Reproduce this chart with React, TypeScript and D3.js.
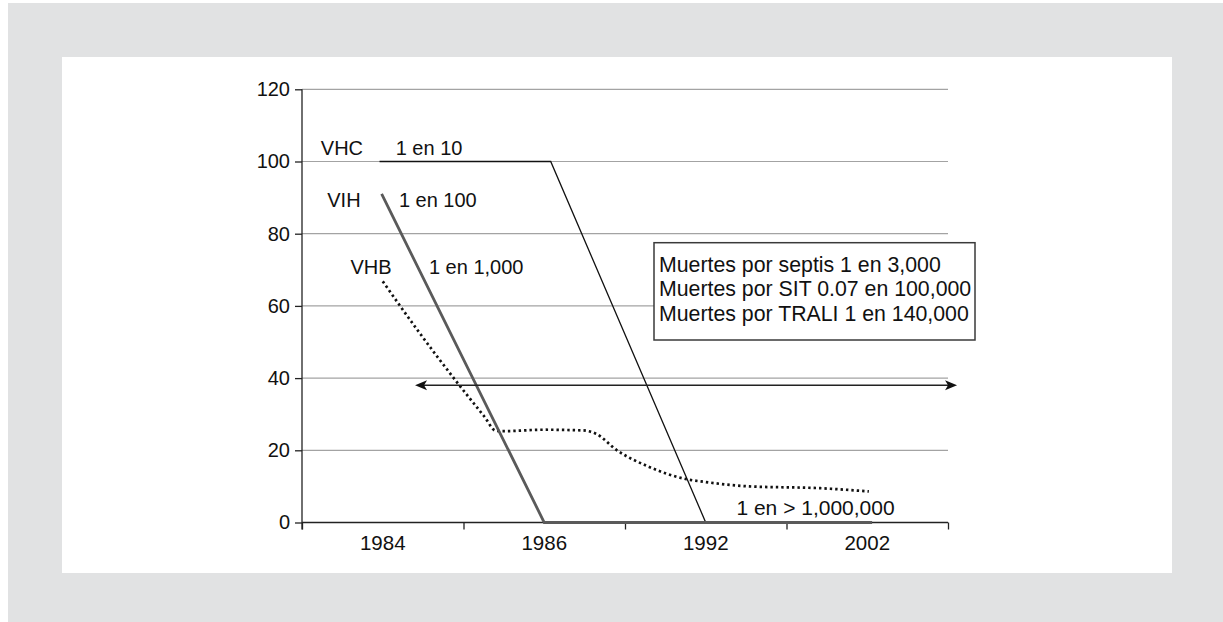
import { useEffect, useRef } from "react";
import * as d3 from "d3";

// categories on the x axis
const years = ["1984", "1986", "1992", "2002"];
const yTicks = [0, 20, 40, 60, 80, 100, 120];

// x is in category units (0.5 = middle of 1984, 1.5 = middle of 1986 ...)
const vhcX = [0.48, 1.54, 2.5, 3.53];
const vhcY = [100, 100, 0, 0];
const vihX = [0.493, 1.5, 3.53];
const vihY = [91, 0, 0];
const vhbX = [0.5, 0.72, 0.95, 1.13, 1.2, 1.24, 1.5, 1.74, 1.82, 1.95, 2.15, 2.38, 2.5, 2.77, 3.21, 3.51];
const vhbY = [66.8, 53, 39.4, 29.3, 25.4, 25.3, 25.7, 25.5, 24.6, 20, 15.4, 12, 11.2, 10.0, 9.5, 8.6];

const seriesNames = ["VHC", "VIH", "VHB"];
const seriesRates = ["1 en 10", "1 en 100", "1 en 1,000"];
const zeroRate = "1 en > 1,000,000";
const boxLines = [
  "Muertes por septis 1 en 3,000",
  "Muertes por SIT 0.07 en 100,000",
  "Muertes por TRALI 1 en 140,000",
];
const arrowX = [0.7, 4.056];
const arrowY = 38;

const FONT = "'Liberation Sans', Arial, sans-serif";

export default function App() {
  const ref = useRef<SVGSVGElement>(null);

  useEffect(() => {
    const svg = d3.select(ref.current);
    svg.selectAll("*").remove();

    // backdrop
    svg.append("rect").attr("width", 1223).attr("height", 622).attr("fill", "#fff");
    svg.append("rect").attr("x", 8).attr("y", 3).attr("width", 1215).attr("height", 619).attr("fill", "#e1e2e3");
    svg.append("rect").attr("x", 62).attr("y", 57).attr("width", 1110).attr("height", 516).attr("fill", "#fff");

    const x = d3.scaleLinear().domain([0, years.length]).range([302, 948]);
    const y = d3.scaleLinear().domain([0, 120]).range([522.5, 89.3]);

    const g = svg.append("g").attr("font-family", FONT);

    // grid
    g.selectAll(".grid")
      .data(yTicks.filter((d) => d > 0))
      .enter()
      .append("line")
      .attr("x1", x(0))
      .attr("x2", x(4))
      .attr("y1", (d) => y(d))
      .attr("y2", (d) => y(d))
      .attr("stroke", "#a3a3a3")
      .attr("stroke-width", 1.2);

    // y axis
    const yAxis = g
      .append("g")
      .attr("transform", `translate(${x(0)},0)`)
      .call(d3.axisLeft(y).tickValues(yTicks).tickSize(7).tickPadding(5));
    yAxis.select(".domain").remove();
    yAxis.selectAll("line").attr("stroke", "#222").attr("stroke-width", 1.3);
    yAxis.selectAll("text").attr("font-size", 20).attr("font-family", FONT).attr("fill", "#111");
    g.append("line")
      .attr("x1", x(0)).attr("x2", x(0))
      .attr("y1", y(120)).attr("y2", y(0) + 7)
      .attr("stroke", "#222").attr("stroke-width", 1.3);

    // x axis: ticks between the years
    const xAxis = g
      .append("g")
      .attr("transform", `translate(0,${y(0)})`)
      .call(d3.axisBottom(x).tickValues([0, 1, 2, 3, 4]).tickSize(7).tickFormat(() => ""));
    xAxis.select(".domain").attr("stroke", "#222").attr("stroke-width", 1.3).attr("d", `M${x(0)},0H${x(4)}`);
    xAxis.selectAll("line").attr("stroke", "#222").attr("stroke-width", 1.3);
    g.selectAll(".year")
      .data(years)
      .enter()
      .append("text")
      .attr("x", (d, i) => x(i + 0.5))
      .attr("y", y(0) + 27)
      .attr("text-anchor", "middle")
      .attr("font-size", 20.5)
      .attr("fill", "#111")
      .text((d) => d);

    const line = d3
      .line<[number, number]>()
      .x((d) => x(d[0]))
      .y((d) => y(d[1]));

    // VHB dotted
    g.append("path")
      .attr("d", line.curve(d3.curveMonotoneX)(vhbX.map((v, i) => [v, vhbY[i]])))
      .attr("fill", "none")
      .attr("stroke", "#111")
      .attr("stroke-width", 2.7)
      .attr("stroke-dasharray", "2.4,3");

    line.curve(d3.curveLinear);

    // VHC thin black
    g.append("path")
      .attr("d", line(vhcX.map((v, i) => [v, vhcY[i]])))
      .attr("fill", "none")
      .attr("stroke", "#111")
      .attr("stroke-width", 1.3);

    // VIH thick grey
    g.append("path")
      .attr("d", line(vihX.map((v, i) => [v, vihY[i]])))
      .attr("fill", "none")
      .attr("stroke", "#5a5a5a")
      .attr("stroke-width", 2.8);

    // series labels
    const namePos = [
      [0.378, 101.7],
      [0.363, 87.4],
      [0.555, 68.8],
    ];
    const ratePos = [0.58, 0.6, 0.786];
    seriesNames.forEach((name, i) => {
      g.append("text")
        .attr("x", x(namePos[i][0]))
        .attr("y", y(namePos[i][1]))
        .attr("text-anchor", "end")
        .attr("font-size", 20)
        .attr("fill", "#111")
        .text(name);
      g.append("text")
        .attr("x", x(ratePos[i]))
        .attr("y", y(namePos[i][1]))
        .attr("font-size", 20)
        .attr("fill", "#111")
        .text(seriesRates[i]);
    });
    g.append("text")
      .attr("x", x(2.69))
      .attr("y", y(2.1))
      .attr("font-size", 21)
      .attr("fill", "#111")
      .text(zeroRate);

    // double arrow
    const ax1 = x(arrowX[0]);
    const ax2 = x(arrowX[1]);
    const ay = y(arrowY);
    g.append("line")
      .attr("x1", ax1 + 6).attr("x2", ax2 - 6)
      .attr("y1", ay).attr("y2", ay)
      .attr("stroke", "#222").attr("stroke-width", 1.5);
    g.append("path")
      .attr("d", `M${ax2},${ay}L${ax2 - 12},${ay - 5}L${ax2 - 9},${ay}L${ax2 - 12},${ay + 5}Z`)
      .attr("fill", "#111");
    g.append("path")
      .attr("d", `M${ax1},${ay}L${ax1 + 12},${ay - 5}L${ax1 + 9},${ay}L${ax1 + 12},${ay + 5}Z`)
      .attr("fill", "#111");

    // text box
    g.append("rect")
      .attr("x", 654).attr("y", 242.7)
      .attr("width", 321).attr("height", 97.3)
      .attr("fill", "#fff")
      .attr("stroke", "#3a3a3a")
      .attr("stroke-width", 1.5);
    boxLines.forEach((t, i) => {
      g.append("text")
        .attr("x", 659)
        .attr("y", 272 + i * 24.3)
        .attr("font-size", 21.3)
        .attr("fill", "#111")
        .text(t);
    });
  }, []);

  return (
    <svg
      ref={ref}
      width={1223}
      height={622}
      style={{ position: "absolute", left: 0, top: 0, display: "block" }}
    />
  );
}
